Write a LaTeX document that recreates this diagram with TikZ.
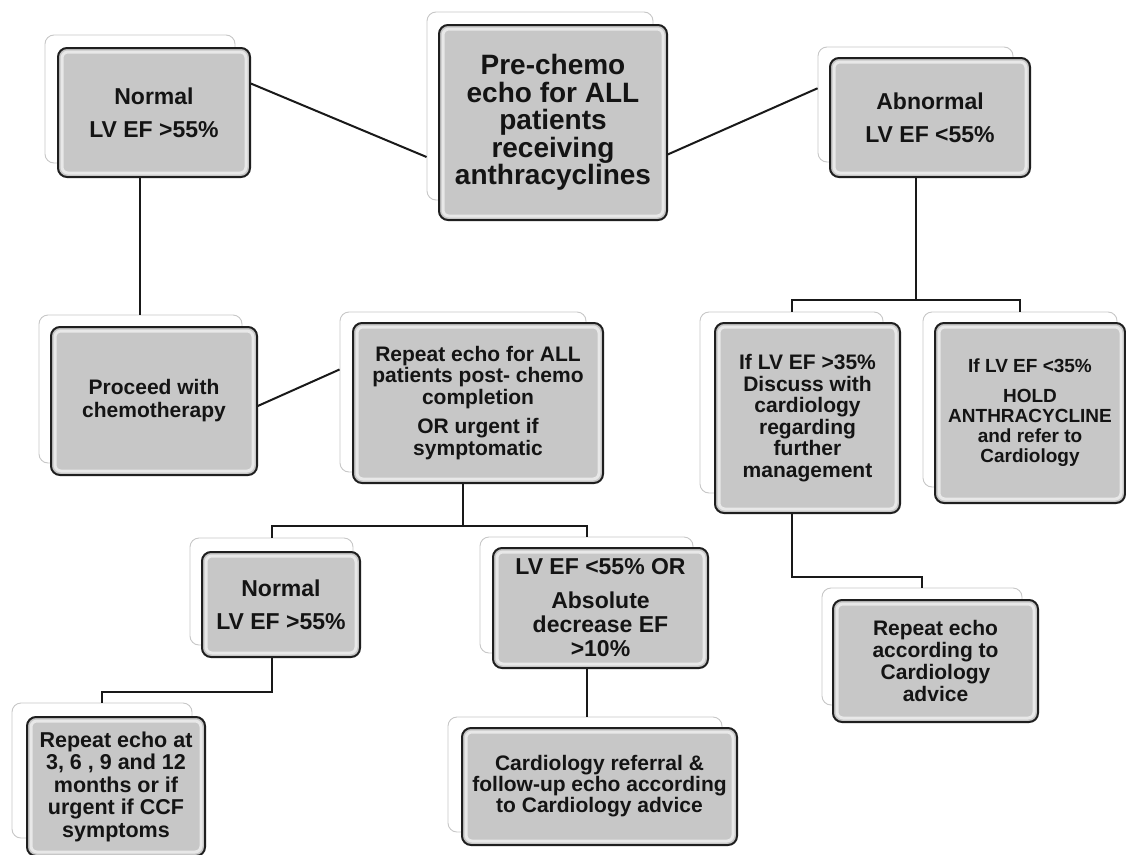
\documentclass[tikz,border=0pt]{standalone}
\usepackage{fontspec}
\setmainfont{Liberation Sans}
\usetikzlibrary{calc}
\newcommand\fs[2]{\bfseries\fontsize{#1}{#2}\selectfont}
\tikzset{
  backcard/.style={draw=black!22, fill=white, line width=0.9pt, rounded corners=9pt, inner sep=0pt},
  frontcard/.style={draw=black!88, fill=black!22, line width=2pt, rounded corners=9pt,
    inner sep=0pt, align=center, text=black!92,
    path picture={\draw[black!9, line width=3pt, rounded corners=6pt]
      ([shift={(4pt,-4pt)}]path picture bounding box.north west) rectangle
      ([shift={(-4pt,4pt)}]path picture bounding box.south east);}},
  link/.style={draw=black!90, line width=2pt},
}
\newcommand\backbox[5]{\node[backcard, minimum width={(#4)-(#2)}, minimum height={(#5)-(#3)}] (#1) at ({((#2)+(#4))/2},{((#3)+(#5))/2}) {};}
\newcommand\frontbox[7]{\node[frontcard, minimum width={(#4)-(#2)}, minimum height={(#5)-(#3)}, font=#6] (#1) at ({((#2)+(#4))/2},{((#3)+(#5))/2}) {#7};}
\begin{document}
\begin{tikzpicture}[x=1pt,y=-1pt]
\useasboundingbox[fill=white] (0,0) rectangle (1126,854);
% back cards
\backbox{Ab}{45}{35}{235}{163}
\backbox{Bb}{427}{12}{653}{200}
\backbox{Cb}{818}{47}{1013}{162}
\backbox{Db}{39}{315}{242}{463}
\backbox{Eb}{340}{312}{586}{472}
\backbox{Fb}{700}{312}{883}{493}
\backbox{Gb}{923}{312}{1117}{487}
\backbox{Hb}{822}{588}{1022}{705}
\backbox{Ib}{190}{538}{353}{645}
\backbox{Jb}{480}{537}{693}{653}
\backbox{Kb}{12}{703}{192}{838}
\backbox{Lb}{448}{717}{722}{832}
% connectors
\draw[link] ($(Ab.north east)!0.33!(Ab.south east)$) -- ($(Bb.north west)!0.77!(Bb.south west)$);
\draw[link] ($(Bb.north east)!0.79!(Bb.south east)$) -- ($(Cb.north west)!0.36!(Cb.south west)$);
\draw[link] (Ab.south) -- (Ab.south |- Db.north);
\draw[link] ($(Db.north east)!0.66!(Db.south east)$) -- ($(Eb.north west)!0.36!(Eb.south west)$);
\coordinate (busC) at ($(Fb.north)+(0,-12)$);
\draw[link] (Cb.south) -- (Cb.south |- busC);
\draw[link] (Fb.north) -- (busC) -| (Gb.north);
\draw[link] (Fb.south) -- ++(0,84) -| (Hb.north);
\coordinate (busE) at ($(Ib.north)+(0,-12)$);
\draw[link] (Eb.south) -- (Eb.south |- busE);
\draw[link] (Ib.north) -- (busE) -| (Jb.north);
\draw[link] (Ib.south) -- ++(0,47) -| (Kb.north);
\draw[link] (Jb.south) -- (Jb.south |- Lb.north);
% front boxes
\frontbox{A}{58}{48}{250}{177}{\fs{23}{33}}{Normal\\LV EF >55\%}
\frontbox{B}{439}{25}{667}{220}{\fs{28}{27.5}}{Pre-chemo\\echo for ALL\\patients\\receiving\\anthracyclines}
\frontbox{C}{830}{58}{1030}{177}{\fs{23}{33}}{Abnormal\\LV EF <55\%}
\frontbox{D}{51}{327}{257}{475}{\fs{21}{23}}{Proceed with\\chemotherapy}
\frontbox{E}{353}{323}{603}{483}{\fs{21}{21.5}}{Repeat echo for ALL\\patients post- chemo\\completion\\[8pt]OR urgent if\\symptomatic}
\frontbox{F}{715}{323}{900}{513}{\fs{21}{21.5}}{If LV EF >35\%\\Discuss with\\cardiology\\regarding\\further\\management}
\frontbox{G}{935}{323}{1125}{503}{\fs{19}{20}}{If LV EF <35\%\\[10pt]HOLD\\ANTHRACYCLINE\\and refer to\\Cardiology}
\frontbox{H}{833}{600}{1038}{722}{\fs{21}{22}}{Repeat echo\\according to\\Cardiology\\advice}
\frontbox{I}{202}{552}{360}{657}{\fs{23}{33}}{Normal\\LV EF >55\%}
\frontbox{J}{493}{548}{708}{668}{\fs{23}{24}}{LV EF <55\% OR\\[10pt]Absolute\\decrease EF\\>10\%}
\frontbox{K}{27}{717}{205}{856}{\fs{21.5}{22.5}}{Repeat echo at\\3, 6 , 9 and 12\\months  or if\\urgent if CCF\\symptoms}
\frontbox{L}{462}{728}{737}{845}{\fs{21}{21}}{Cardiology referral \&\\follow-up echo according\\to Cardiology advice}
\end{tikzpicture}
\end{document}
